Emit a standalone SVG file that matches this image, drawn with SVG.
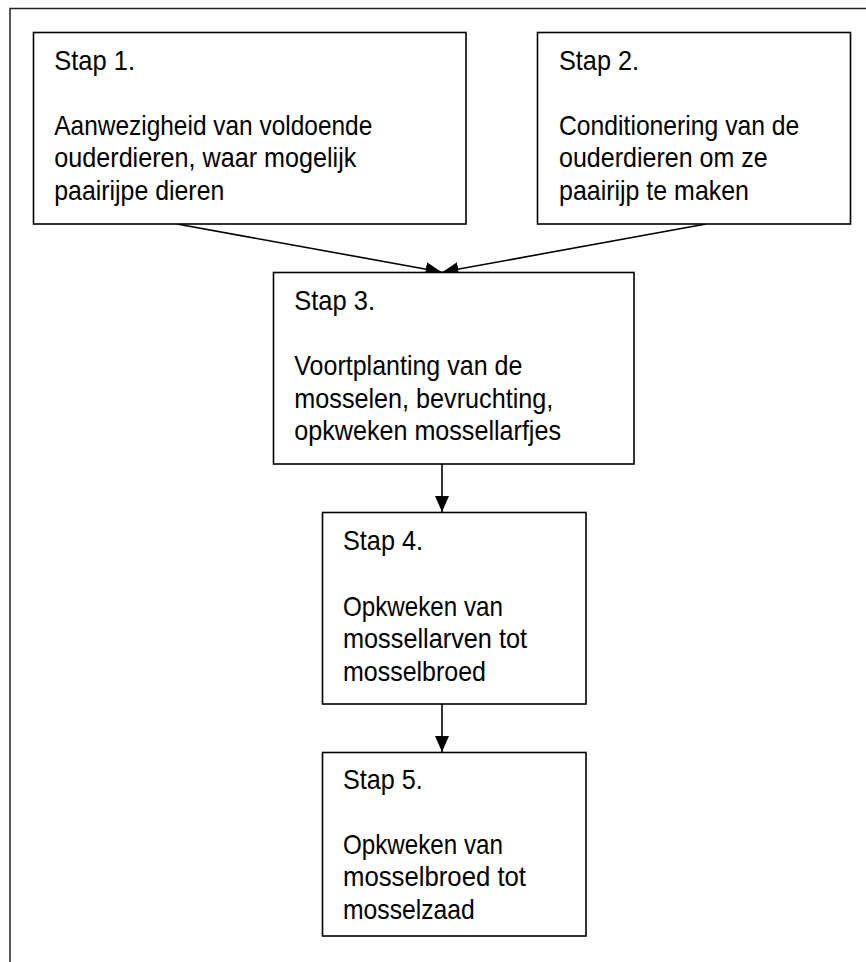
<svg xmlns="http://www.w3.org/2000/svg" width="866" height="962" viewBox="0 0 866 962">
<style>
.box{fill:#fff;stroke:#000;stroke-width:1.6}
.t{font-family:"Liberation Sans",Arial,sans-serif;font-size:28.5px;fill:#000}
.c{stroke:#000;stroke-width:1.6;fill:none;marker-end:url(#ah)}
</style>
<defs>
<marker id="ah" markerUnits="userSpaceOnUse" markerWidth="17" markerHeight="15" refX="16" refY="7" orient="auto">
<path d="M0,0 L16,7 L0,14 Z" fill="#000"/>
</marker>
</defs>
<rect width="866" height="962" fill="#fff"/>
<path d="M10,962 V8.5 H866" fill="none" stroke="#222" stroke-width="1.5"/>
<g id="connectors">
<line class="c" x1="177" y1="224" x2="441.5" y2="272"/>
<line class="c" x1="706" y1="224" x2="442.5" y2="272"/>
<line class="c" x1="442" y1="464" x2="442" y2="512"/>
<line class="c" x1="442" y1="704" x2="442" y2="752"/>
</g>
<g id="stap1">
<rect class="box" x="33.5" y="32.5" width="432.5" height="191.5"/>
<text class="t" x="54.3" y="70" textLength="80.7" lengthAdjust="spacingAndGlyphs">Stap 1.</text>
<text class="t" x="54.3" y="134.5" textLength="318" lengthAdjust="spacingAndGlyphs">Aanwezigheid van voldoende</text>
<text class="t" x="54.3" y="167" textLength="302" lengthAdjust="spacingAndGlyphs">ouderdieren, waar mogelijk</text>
<text class="t" x="54.3" y="199.7" textLength="170" lengthAdjust="spacingAndGlyphs">paairijpe dieren</text>
</g>
<g id="stap2">
<rect class="box" x="537.5" y="32.5" width="313" height="191.5"/>
<text class="t" x="559" y="70" textLength="80" lengthAdjust="spacingAndGlyphs">Stap 2.</text>
<text class="t" x="559" y="134.5" textLength="240.3" lengthAdjust="spacingAndGlyphs">Conditionering van de</text>
<text class="t" x="559" y="167" textLength="208.7" lengthAdjust="spacingAndGlyphs">ouderdieren om ze</text>
<text class="t" x="559" y="199.7" textLength="190" lengthAdjust="spacingAndGlyphs">paairijp te maken</text>
</g>
<g id="stap3">
<rect class="box" x="273.5" y="272.5" width="360.5" height="191.5"/>
<text class="t" x="294.3" y="310" textLength="80.7" lengthAdjust="spacingAndGlyphs">Stap 3.</text>
<text class="t" x="294.3" y="375" textLength="228" lengthAdjust="spacingAndGlyphs">Voortplanting van de</text>
<text class="t" x="294.3" y="407.7" textLength="259" lengthAdjust="spacingAndGlyphs">mosselen, bevruchting,</text>
<text class="t" x="294.3" y="440.4" textLength="266.7" lengthAdjust="spacingAndGlyphs">opkweken mossellarfjes</text>
</g>
<g id="stap4">
<rect class="box" x="322.5" y="512.5" width="263.5" height="191.5"/>
<text class="t" x="343" y="550" textLength="80" lengthAdjust="spacingAndGlyphs">Stap 4.</text>
<text class="t" x="343" y="615.5" textLength="160" lengthAdjust="spacingAndGlyphs">Opkweken van</text>
<text class="t" x="343" y="648.2" textLength="184" lengthAdjust="spacingAndGlyphs">mossellarven tot</text>
<text class="t" x="343" y="680.5" textLength="143" lengthAdjust="spacingAndGlyphs">mosselbroed</text>
</g>
<g id="stap5">
<rect class="box" x="322.5" y="752.5" width="263.5" height="183.5"/>
<text class="t" x="343" y="789" textLength="79.7" lengthAdjust="spacingAndGlyphs">Stap 5.</text>
<text class="t" x="343" y="853.5" textLength="160" lengthAdjust="spacingAndGlyphs">Opkweken van</text>
<text class="t" x="343" y="886.2" textLength="183" lengthAdjust="spacingAndGlyphs">mosselbroed tot</text>
<text class="t" x="343" y="918.5" textLength="131.7" lengthAdjust="spacingAndGlyphs">mosselzaad</text>
</g>
</svg>
